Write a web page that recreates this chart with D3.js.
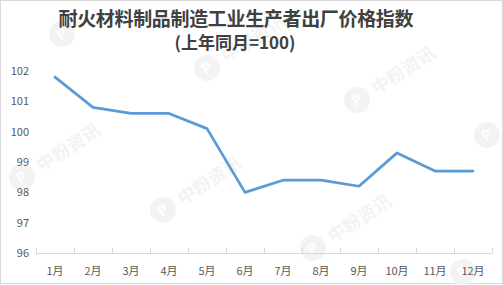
<!DOCTYPE html>
<html>
<head>
<meta charset="utf-8">
<script src="https://cdn.jsdelivr.net/npm/d3@7"></script>
<style>
  body { margin: 0; background: #fff; }
  svg { display: block; font-family: "Noto Sans CJK SC", "Noto Sans", sans-serif; }
</style>
</head>
<body>
<svg id="chart" width="503" height="285"></svg>
<script>
// data
const months = ["1月","2月","3月","4月","5月","6月","7月","8月","9月","10月","11月","12月"]
const values = [101.8, 100.8, 100.6, 100.6, 100.1, 98.0, 98.4, 98.4, 98.2, 99.3, 98.7, 98.7]
const yTicks = [96, 97, 98, 99, 100, 101, 102]
const titleLines = ["耐火材料制品制造工业生产者出厂价格指数", "(上年同月=100)"]
// watermark logo spots; the last flag says whether the text fits on the canvas
const watermarkSpots = [[62,34,false],[207,68,true],[22,177,true],[163,210,true],[313,248,true],[357,100,true],[487,135,false],[463,272,false]]

const svg = d3.select("#chart")
const width = 503, height = 285

svg.append("rect")
    .attr("x", 0.5).attr("y", 0.5)
    .attr("width", width - 1).attr("height", height - 2)
    .attr("fill", "#fff")
    .attr("stroke", "#d9d9d9")

// faint watermarks
const wm = svg.append("g").attr("fill", "#f3f3f3")
watermarkSpots.forEach(p => {
    const g = wm.append("g").attr("transform", `translate(${p[0]},${p[1]}) rotate(-33)`)
    g.append("circle").attr("r", 13)
    g.append("text").attr("x", -5).attr("y", 5)
        .attr("font-size", 14).attr("font-weight", "bold").attr("fill", "#fff")
        .text("P")
    if (p[2]) {
        g.append("text").attr("x", 19).attr("y", 7)
            .attr("font-size", 18).attr("font-weight", "bold")
            .text("中粉资讯")
    }
})

// title
svg.append("text")
    .attr("x", 236).attr("y", 26)
    .attr("text-anchor", "middle")
    .attr("font-size", 19).attr("font-weight", "bold")
    .attr("fill", "#404040")
    .attr("textLength", 355).attr("lengthAdjust", "spacing")
    .text(titleLines[0])
svg.append("text")
    .attr("x", 235).attr("y", 49)
    .attr("text-anchor", "middle")
    .attr("font-size", 17).attr("font-weight", "bold")
    .attr("fill", "#404040")
    .text(titleLines[1])

const x = d3.scaleBand().domain(months).range([36, 492])
const y = d3.scaleLinear().domain([96, 102]).range([253, 71])

// y labels (no axis line)
svg.append("g")
    .selectAll("text")
    .data(yTicks)
    .join("text")
    .attr("x", 29)
    .attr("y", d => y(d) + 4)
    .attr("text-anchor", "end")
    .attr("font-size", 11)
    .attr("fill", "#595959")
    .text(d => d)

// x axis
const xAxis = svg.append("g")
xAxis.append("line")
    .attr("x1", 36).attr("x2", 492)
    .attr("y1", 253.5).attr("y2", 253.5)
    .attr("stroke", "#d9d9d9")
const tickPos = months.map(m => x(m)).concat([x.range()[1]])
xAxis.selectAll(".tick")
    .data(tickPos)
    .join("line")
    .attr("x1", d => Math.round(d) + 0.5).attr("x2", d => Math.round(d) + 0.5)
    .attr("y1", 248).attr("y2", 253)
    .attr("stroke", "#d9d9d9")
xAxis.selectAll(".lbl")
    .data(months)
    .join("text")
    .attr("x", d => x(d) + x.bandwidth() / 2)
    .attr("y", 275)
    .attr("text-anchor", "middle")
    .attr("font-size", 11)
    .attr("fill", "#595959")
    .text(d => d)

// line
const line = d3.line()
    .x((d, i) => x(months[i]) + x.bandwidth() / 2)
    .y(d => y(d))
svg.append("path")
    .datum(values)
    .attr("d", line)
    .attr("fill", "none")
    .attr("stroke", "#5b9bd5")
    .attr("stroke-width", 2.75)
    .attr("stroke-linejoin", "round")
    .attr("stroke-linecap", "round")
</script>
</body>
</html>
